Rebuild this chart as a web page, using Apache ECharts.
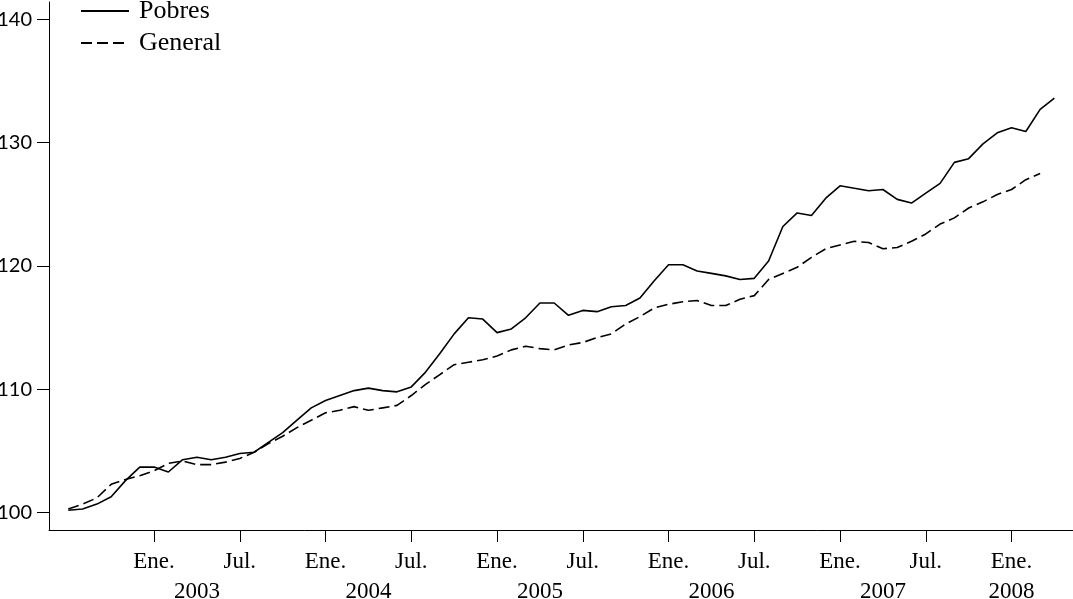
<!DOCTYPE html>
<html>
<head>
<meta charset="utf-8">
<title>Pobres vs General</title>
<script src="https://cdn.jsdelivr.net/npm/echarts@6.0.0/dist/echarts.min.js"></script>
<style>
  html, body { margin: 0; padding: 0; background: #fff; }
  #chart { width: 1073px; height: 599px; }
</style>
</head>
<body>
<div id="chart"></div>
<script>
  // meses: jul. 2002 .. abr. 2008 (posicion en meses desde ene. 2003)
  var primerMes = { anio: 2002, mes: 7 }

  // indice Pobres, jul. 2002 - abr. 2008
  var pobres = [
    100.2, 100.3, 100.7, 101.3, 102.6, 103.7,
    103.7, 103.3, 104.3, 104.5, 104.3, 104.5, 104.8, 104.9, 105.7, 106.5, 107.5, 108.5,
    109.1, 109.5, 109.9, 110.1, 109.9, 109.8, 110.2, 111.4, 112.9, 114.5, 115.8, 115.7,
    114.6, 114.9, 115.8, 117.0, 117.0, 116.0, 116.4, 116.3, 116.7, 116.8, 117.4, 118.8,
    120.1, 120.1, 119.6, 119.4, 119.2, 118.9, 119.0, 120.4, 123.2, 124.3, 124.1, 125.5,
    126.5, 126.3, 126.1, 126.2, 125.4, 125.1, 125.9, 126.7, 128.4, 128.7, 129.9, 130.8,
    131.2, 130.9, 132.7, 133.6
  ]
  // indice General, jul. 2002 - mar. 2008
  var general = [
    100.3, 100.7, 101.2, 102.3, 102.7, 103.0,
    103.4, 104.0, 104.2, 103.9, 103.9, 104.1, 104.4, 104.9, 105.6, 106.2, 106.9, 107.5,
    108.1, 108.3, 108.6, 108.3, 108.5, 108.7, 109.5, 110.4, 111.2, 112.0, 112.2, 112.4,
    112.7, 113.2, 113.5, 113.3, 113.2, 113.6, 113.8, 114.2, 114.5, 115.3, 115.9, 116.6,
    116.9, 117.1, 117.2, 116.8, 116.8, 117.3, 117.6, 118.9, 119.4, 119.9, 120.7, 121.4,
    121.7, 122.0, 121.9, 121.4, 121.5, 122.0, 122.6, 123.4, 123.9, 124.7, 125.2, 125.8,
    126.2, 127.0, 127.5
  ]

  // marcas del eje x (meses desde ene. 2003)
  var marcasMes = [0, 6, 12, 18, 24, 30, 36, 42, 48, 54, 60]
  var etiquetasMes = ['Ene.', 'Jul.', 'Ene.', 'Jul.', 'Ene.', 'Jul.', 'Ene.', 'Jul.', 'Ene.', 'Jul.', 'Ene.']
  var marcasAnio = [3, 15, 27, 39, 51, 60]
  var etiquetasAnio = ['2003', '2004', '2005', '2006', '2007', '2008']
  var marcasY = [100, 110, 120, 130, 140]

  var offset = (primerMes.anio - 2003) * 12 + (primerMes.mes - 1)
  function aPares(valores) {
    return valores.map(function (v, i) { return [offset + i, v] })
  }

  var serif = '"Liberation Serif", "DejaVu Serif", serif'
  var xMin = -7.35, xMax = 64.3

  var myChart = echarts.init(document.getElementById('chart'))
  var option = {
    animation: false,
    backgroundColor: '#fff',
    grid: { left: 49, right: 0, top: 2, bottom: 69, containLabel: false, outerBoundsMode: 'none' },
    legend: {
      orient: 'vertical',
      left: 80,
      top: -4,
      padding: 0,
      itemWidth: 48,
      itemHeight: 14,
      itemGap: 2,
      itemStyle: { opacity: 0 },
      textStyle: { fontFamily: serif, fontSize: 26, color: '#000', lineHeight: 30, padding: [0, 0, 0, 5] },
      data: ['Pobres', 'General']
    },
    xAxis: [{
      type: 'value',
      min: xMin,
      max: xMax,
      splitLine: { show: false },
      axisLine: { show: true, onZero: false, lineStyle: { color: '#000', width: 1 } },
      axisTick: { show: true, length: 12, customValues: marcasMes, lineStyle: { color: '#000', width: 1 } },
      axisLabel: {
        customValues: marcasMes,
        formatter: function (v) { return etiquetasMes[marcasMes.indexOf(v)] },
        fontFamily: serif,
        fontSize: 23,
        lineHeight: 24,
        color: '#000',
        margin: 20
      }
    }, {
      type: 'value',
      position: 'bottom',
      min: xMin,
      max: xMax,
      splitLine: { show: false },
      axisLine: { show: false },
      axisTick: { show: false },
      axisLabel: {
        customValues: marcasAnio,
        formatter: function (v) { return etiquetasAnio[marcasAnio.indexOf(v)] },
        fontFamily: serif,
        fontSize: 23,
        lineHeight: 24,
        color: '#000',
        margin: 50
      }
    }],
    yAxis: {
      type: 'value',
      min: 98.6,
      max: 141.4,
      splitLine: { show: false },
      axisLine: { show: true, onZero: false, lineStyle: { color: '#000', width: 1 } },
      axisTick: { show: true, length: 12, customValues: marcasY, lineStyle: { color: '#000', width: 1 } },
      axisLabel: {
        customValues: marcasY,
        fontFamily: 'Lato, "Open Sans", sans-serif',
        fontSize: 20,
        color: '#000',
        margin: 17,
        padding: [6, 0, 0, 0]
      }
    },
    series: [{
      name: 'Pobres',
      type: 'line',
      xAxisIndex: 0,
      symbol: 'none',
      data: aPares(pobres),
      itemStyle: { color: '#000' },
      lineStyle: { color: '#000', width: 1.6 }
    }, {
      name: 'General',
      type: 'line',
      xAxisIndex: 0,
      symbol: 'none',
      data: aPares(general),
      itemStyle: { color: '#000' },
      lineStyle: { color: '#000', width: 1.6, type: [11, 5] }
    }]
  }
  myChart.setOption(option)
</script>
</body>
</html>
